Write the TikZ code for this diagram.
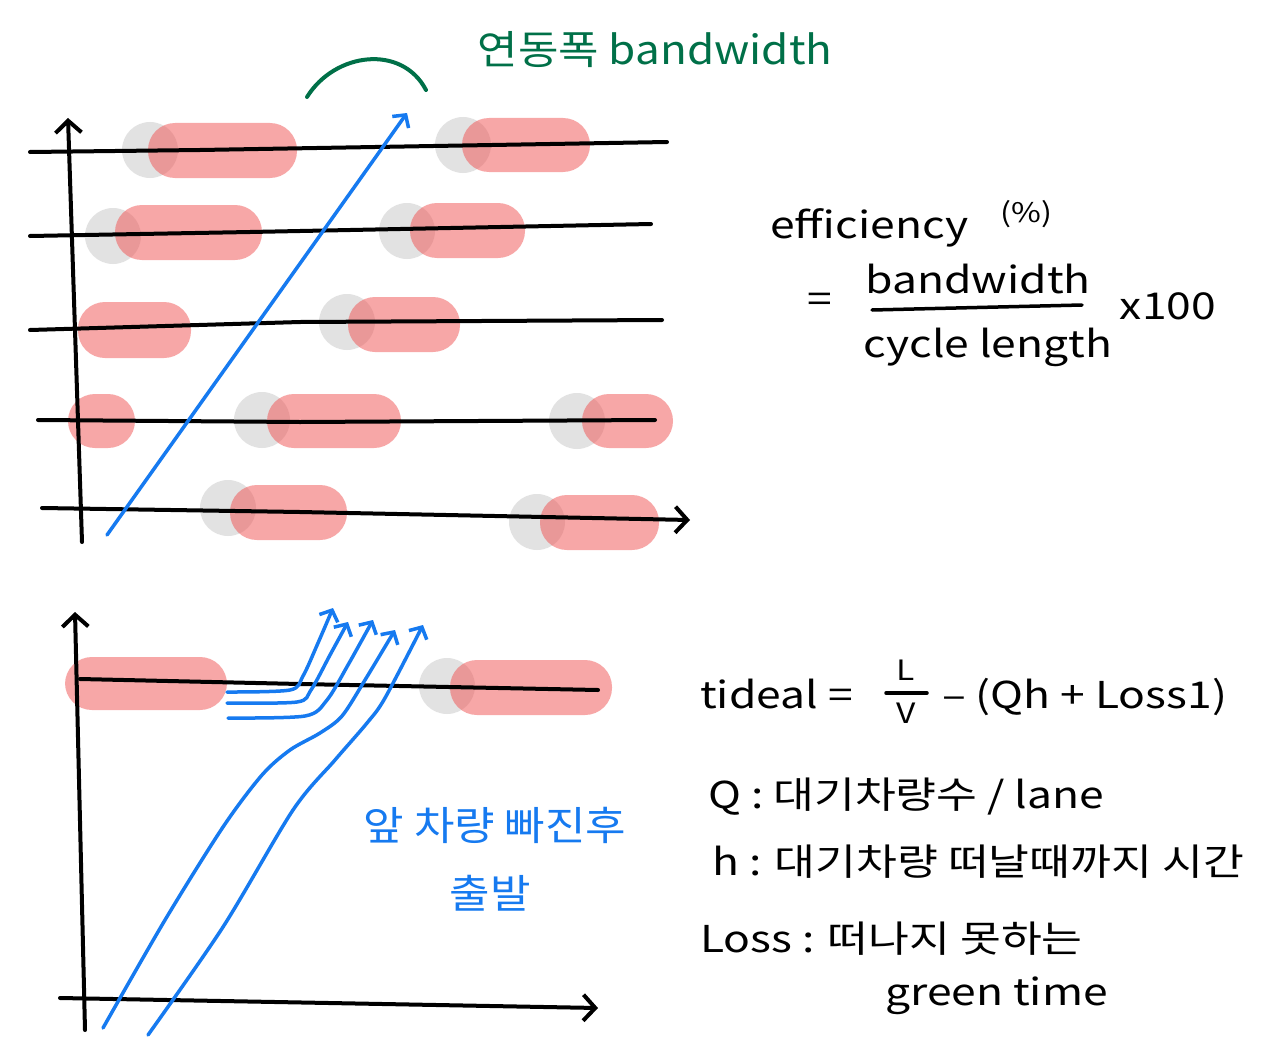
\documentclass[tikz,border=0pt]{standalone}
\usepackage{fontspec}
\setmainfont{Noto Sans CJK KR}
\newfontfamily\handfont{Noto Sans CJK KR}[FakeStretch=1.2]
\newfontfamily\handfontnarrow{Noto Sans CJK KR}[FakeStretch=1.1]
\usetikzlibrary{arrows.meta}
\definecolor{queue color}{RGB}{222,222,222}
\definecolor{platoon color}{RGB}{240,80,80}
\definecolor{trajectory color}{RGB}{22,122,240}
\definecolor{band color}{RGB}{0,112,72}
\tikzset{
    x={1pt},
    y={-1pt},
    lane/.style={
        draw=black,
        line width={4pt},
        line cap=round,
    },
    axis/.style={
        lane,
        -{Straight Barb[length=12pt,width=26pt]},
    },
    queue/.style={
        fill=queue color,
        opacity=0.85,
    },
    platoon/.style={
        fill=platoon color,
        opacity=0.5,
        rounded corners={27pt},
    },
    trajectory/.style={
        draw=trajectory color,
        line width={3.5pt},
        line cap=round,
        -{Straight Barb[length=9pt,width=20pt]},
    },
    band/.style={
        draw=band color,
        line width={4pt},
        line cap=round,
    },
    note/.style={
        font={\handfont\fontsize{37}{42}\selectfont},
        inner sep=0pt,
    },
    band label/.style={
        note, text=band color,
        font={\handfontnarrow\fontsize{40}{46}\selectfont},
    },
    trajectory label/.style={
        note, text=trajectory color,
        font={\handfontnarrow\fontsize{40}{46}\selectfont},
    },
}

\begin{document}
\begin{tikzpicture}
\path[fill=white] (0,0) rectangle (1268,1062);
\useasboundingbox (0,0) rectangle (1268,1062);
% queued and moving platoons (top)
\path[queue] (150,150) circle[radius=28];
\path[platoon] (148,123) rectangle (297,178);
\path[queue] (463,145) circle[radius=28];
\path[platoon] (462,118) rectangle (590,172);
\path[queue] (113,236) circle[radius=28];
\path[platoon] (115,205) rectangle (262,260);
\path[queue] (407,231) circle[radius=28];
\path[platoon] (410,203) rectangle (525,258);
\path[platoon] (78,302) rectangle (191,358);
\path[queue] (347,322) circle[radius=28];
\path[platoon] (348,297) rectangle (460,352);
\path[platoon] (68,394) rectangle (135,448);
\path[queue] (262,420) circle[radius=28];
\path[platoon] (267,394) rectangle (401,448);
\path[queue] (577,421) circle[radius=28];
\path[platoon] (582,394) rectangle (673,448);
\path[queue] (228,508) circle[radius=28];
\path[platoon] (230,485) rectangle (347,540);
\path[queue] (537,522) circle[radius=28];
\path[platoon] (540,495) rectangle (659,550);
% lanes (top)
\path[lane] (30,152) -- (200,150) -- (667,142);
\path[lane] (30,236) -- (250,232) -- (651,224);
\path[lane] (30,330) -- (300,322) -- (662,320);
\path[lane] (38,420) -- (300,422) -- (655,420);
\path[axis] (42,508) -- (300,512) -- (690,520);
\path[axis] (82,542) -- (68,118);
% green band
\path[trajectory] (107,535) -- (407,113);
\path[band] (307,97) .. controls (335,52) and (402,44) .. (426,90);
\node[band label] (bandname) at (655,50) {연동폭 bandwidth};
% efficiency
\node[note, anchor=base west] (eff) at (770,238) {efficiency};
\node[note, anchor=base west, font={\handfont\fontsize{27}{30}\selectfont}] (effunit) at (1000,222) {(\%)};
\node[note] (effeq) at (820,303) {=};
\node[note] (effnum) at (978,279) {bandwidth};
\node[note] (effden) at (988,347) {cycle length};
\coordinate (barleft) at (872,310);
\coordinate (barright) at (1082,305);
\path[lane, line width={3.5pt}] (barleft) -- (barright);
\node[note] (effscale) at (1168,306) {x100};
% queue discharge (bottom)
\path[platoon] (65,657) rectangle (227,710);
\path[queue] (447,686) circle[radius=28];
\path[platoon] (450,660) rectangle (612,715);
\path[lane] (80,679) -- (300,684) -- (598,690);
\path[axis] (60,998) -- (598,1008);
\path[axis] (85,1030) -- (75,612);
\path[trajectory] plot[smooth, tension=0.5] coordinates {(227,692) (290,690) (303,676) (318,643) (333,608)};
\path[trajectory] plot[smooth, tension=0.5] coordinates {(227,703) (297,702) (311,690) (330,655) (348,622)};
\path[trajectory] plot[smooth, tension=0.5] coordinates {(228,718) (305,716) (327,700) (348,665) (373,620)};
\path[trajectory] plot[smooth, tension=0.5] coordinates {(103,1028) (165,920) (223,827) (262,775) (290,750) (320,733) (342,716) (365,680) (395,630)};
\path[trajectory] plot[smooth, tension=0.5] coordinates {(148,1035) (223,927) (293,810) (335,760) (367,723) (385,698) (423,625)};
\node[trajectory label] (startlabel) at (495,825) {앞 차량 빠진후};
\node[trajectory label] (startlabel2) at (490,893) {출발};
% ideal green time
\node[note, anchor=base west] (tideal) at (700,708) {tideal =};
\node[note, font={\handfont\fontsize{28}{32}\selectfont}] (lnum) at (906,670) {L};
\node[note, font={\handfont\fontsize{28}{32}\selectfont}] (vden) at (906,713) {V};
\coordinate (lvleft) at (886,693);
\coordinate (lvright) at (927,693);
\path[lane, line width={3.5pt}] (lvleft) -- (lvright);
\node[note, anchor=base west] (lossterm) at (942,708) {– (Qh + Loss1)};
\node[note, anchor=base west] (qdef) at (708,808) {Q : 대기차량수 / lane};
\node[note, anchor=base west] (hdef) at (712,875) {h : 대기차량 떠날때까지 시간};
\node[note, anchor=base west] (lossdef) at (700,952) {Loss : 떠나지 못하는};
\node[note, anchor=base west] (lossdef2) at (885,1005) {green time};
\end{tikzpicture}
\end{document}
